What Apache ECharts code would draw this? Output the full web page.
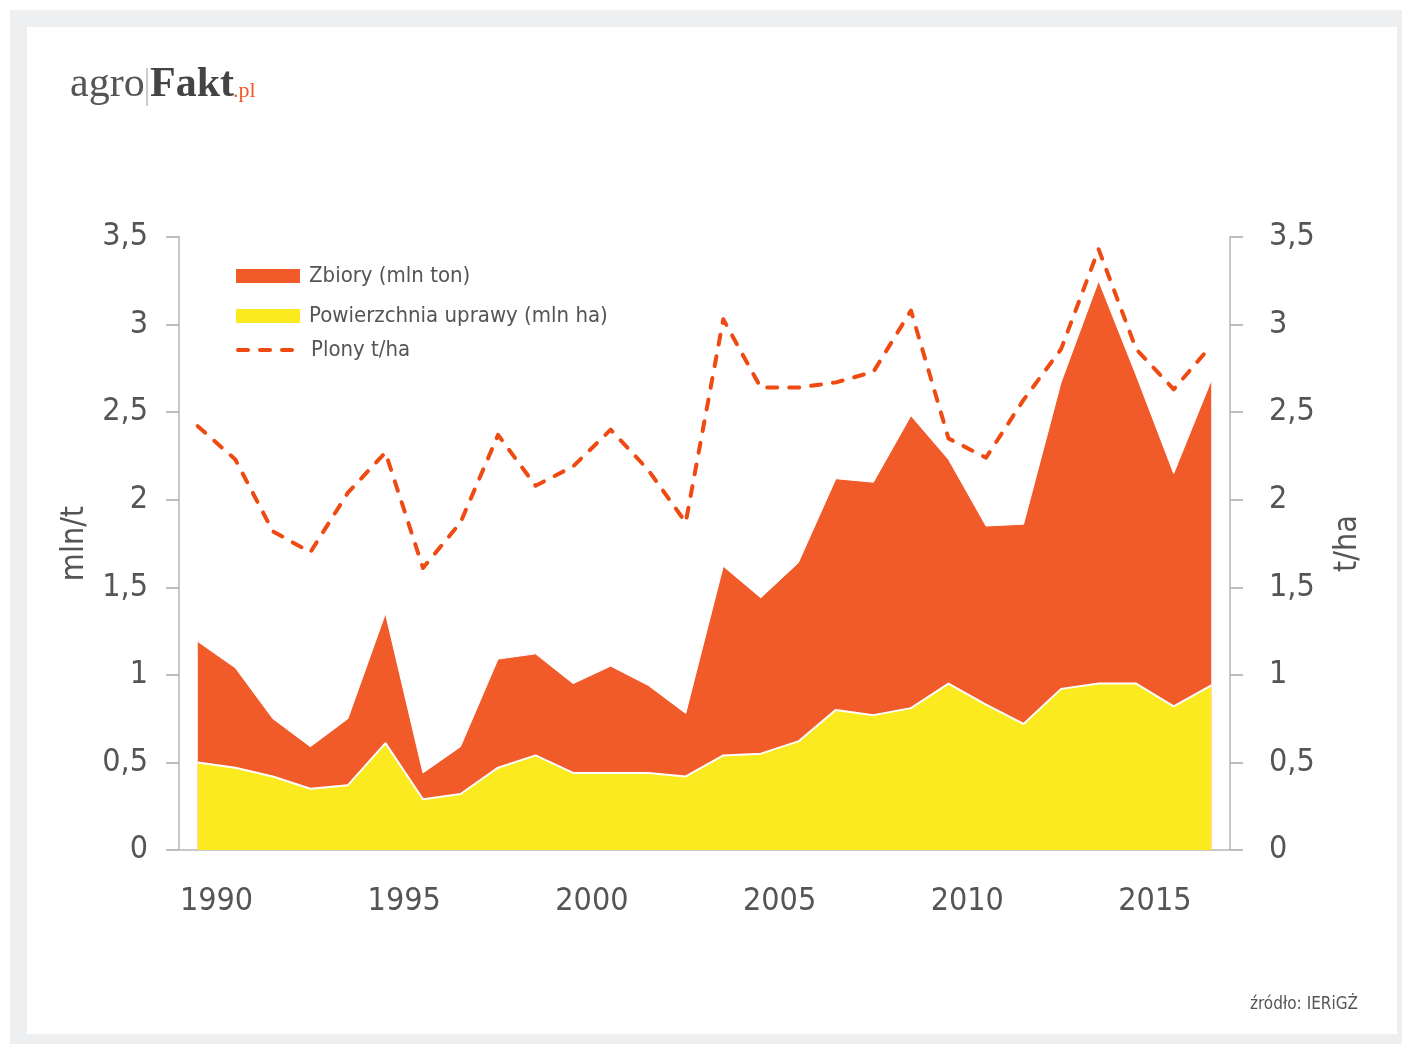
<!DOCTYPE html>
<html>
<head>
<meta charset="utf-8">
<title>Rzepak - zbiory, powierzchnia, plony</title>
<script src="https://cdn.jsdelivr.net/npm/echarts@6/dist/echarts.min.js"></script>
<style>
    html, body { margin: 0; padding: 0; background: #ffffff; }
    #frame { position: absolute; left: 10px; top: 10px; width: 1392px; height: 1034px; background: #eeeff0; }
    #card { position: absolute; left: 27px; top: 27px; width: 1370px; height: 1007px; background: #ffffff; }
    #main { position: absolute; left: 0; top: 0; width: 1402px; height: 1044px; }
</style>
</head>
<body>
<div id="frame"></div>
<div id="card"></div>
<div id="main"></div>
<script>
// lata (punkty danych)
var years = ['1990','1991','1992','1993','1994','1995','1996','1997','1998','1999',
             '2000','2001','2002','2003','2004','2005','2006','2007','2008','2009',
             '2010','2011','2012','2013','2014','2015','2016','2017'];
// podpisy osi x - stoja na kreskach miedzy latami
var tickYears = ['1989','1990','1991','1992','1993','1994','1995','1996','1997','1998','1999',
                 '2000','2001','2002','2003','2004','2005','2006','2007','2008','2009',
                 '2010','2011','2012','2013','2014','2015','2016','2017'];
// Zbiory (mln ton)
var zbiory = [1.19, 1.04, 0.75, 0.59, 0.75, 1.35, 0.44, 0.59, 1.09, 1.12,
              0.95, 1.05, 0.94, 0.78, 1.62, 1.44, 1.64, 2.12, 2.10, 2.48,
              2.23, 1.85, 1.86, 2.67, 3.25, 2.71, 2.15, 2.68];
// Powierzchnia uprawy (mln ha)
var powierzchnia = [0.50, 0.47, 0.42, 0.35, 0.37, 0.61, 0.29, 0.32, 0.47, 0.54,
                    0.44, 0.44, 0.44, 0.42, 0.54, 0.55, 0.62, 0.80, 0.77, 0.81,
                    0.95, 0.83, 0.72, 0.92, 0.95, 0.95, 0.82, 0.94];
// Plony t/ha
var plony = [2.42, 2.23, 1.82, 1.70, 2.04, 2.27, 1.61, 1.87, 2.37, 2.08,
             2.19, 2.40, 2.17, 1.87, 3.03, 2.64, 2.64, 2.67, 2.73, 3.08,
             2.35, 2.24, 2.57, 2.86, 3.43, 2.86, 2.63, 2.88];

var condensed = '"Liberation Sans Narrow", "DejaVu Sans Condensed", "Roboto Condensed", sans-serif';
var serif = '"Liberation Serif", serif';
var grey = '#555555';
var axisGrey = '#c8c8c8';
var dash = [10, 12];

function commaFmt(v) {
    return String(v).replace('.', ',');
}

function legendItem(item, top) {
    return {
        left: 236,
        top: top,
        padding: 0,
        itemWidth: 64,
        itemHeight: 14,
        itemGap: 0,
        selectedMode: false,
        data: [item],
        textStyle: { fontFamily: condensed, fontSize: 22, color: grey, padding: [0, 0, 0, 4] }
    };
}

var myChart = echarts.init(document.getElementById('main'));

var option = {
    animation: false,
    // logo + zrodlo
    graphic: [
        {
            type: 'text',
            left: 70,
            top: 64,
            style: { text: 'agro', fontFamily: serif, fontSize: 42, fill: '#555555' }
        },
        {
            type: 'line',
            shape: { x1: 147, y1: 68, x2: 147, y2: 106 },
            style: { stroke: '#9a9a9a', lineWidth: 1 }
        },
        {
            type: 'text',
            left: 150,
            top: 64,
            style: { text: 'Fakt', fontFamily: serif, fontSize: 42, fontWeight: 'bold', fill: '#444444' }
        },
        {
            type: 'text',
            left: 233,
            top: 80,
            style: { text: '.pl', fontFamily: serif, fontSize: 22, fill: '#f15a29' }
        },
        {
            type: 'text',
            right: 44,
            top: 996,
            style: {
                text: 'źródło: IERiGŻ',
                fontFamily: condensed,
                fontSize: 17,
                fill: grey
            }
        }
    ],
    legend: [
        legendItem({ name: 'Zbiory (mln ton)', icon: 'rect' }, 265),
        legendItem({ name: 'Powierzchnia uprawy (mln ha)', icon: 'rect' }, 305),
        legendItem({
            name: 'Plony t/ha',
            itemStyle: { opacity: 0 },
            lineStyle: { width: 4, type: dash, cap: 'round' }
        }, 339)
    ],
    grid: {
        left: 179,
        right: 172,
        top: 237,
        bottom: 194
    },
    xAxis: [
        {
            type: 'category',
            position: 'bottom',
            boundaryGap: true,
            data: years,
            axisLine: { lineStyle: { color: axisGrey, width: 2 } },
            axisTick: { interval: 0, length: 12, lineStyle: { color: '#aaaaaa', width: 1.5 } },
            axisLabel: { show: false },
            splitLine: { show: false }
        },
        {
            // osobna os tylko na podpisy lat przy kreskach
            type: 'category',
            position: 'bottom',
            boundaryGap: false,
            data: tickYears,
            axisLine: { show: false },
            axisTick: { show: false },
            axisLabel: {
                interval: function(index, value) {
                    return Number(value) % 5 === 0;
                },
                margin: 36,
                fontFamily: condensed,
                fontSize: 32,
                color: grey
            },
            splitLine: { show: false }
        }
    ],
    yAxis: [
        {
            type: 'value',
            position: 'left',
            min: 0,
            max: 3.5,
            interval: 0.5,
            name: 'mln/t',
            nameLocation: 'middle',
            nameGap: 88,
            nameRotate: 90,
            nameTextStyle: { fontFamily: condensed, fontSize: 32, color: grey },
            axisLine: { show: true, lineStyle: { color: axisGrey, width: 2 } },
            axisTick: { show: true, length: 13, lineStyle: { color: '#aaaaaa', width: 1.5 } },
            axisLabel: { formatter: commaFmt, margin: 31, fontFamily: condensed, fontSize: 32, color: grey },
            splitLine: { show: false }
        },
        {
            type: 'value',
            position: 'right',
            min: 0,
            max: 3.5,
            interval: 0.5,
            name: 't/ha',
            nameLocation: 'middle',
            nameGap: 102,
            nameRotate: 90,
            nameTextStyle: { fontFamily: condensed, fontSize: 32, color: grey },
            axisLine: { show: true, lineStyle: { color: axisGrey, width: 2 } },
            axisTick: { show: true, length: 13, lineStyle: { color: '#aaaaaa', width: 1.5 } },
            axisLabel: { formatter: commaFmt, margin: 39, fontFamily: condensed, fontSize: 32, color: grey },
            splitLine: { show: false }
        }
    ],
    series: [
        {
            name: 'Zbiory (mln ton)',
            type: 'line',
            xAxisIndex: 0,
            yAxisIndex: 0,
            data: zbiory,
            symbol: 'none',
            itemStyle: { color: '#f15a29' },
            lineStyle: { color: '#ffffff', width: 1 },
            areaStyle: { color: '#f15a29', opacity: 1 }
        },
        {
            name: 'Powierzchnia uprawy (mln ha)',
            type: 'line',
            xAxisIndex: 0,
            yAxisIndex: 0,
            data: powierzchnia,
            symbol: 'none',
            itemStyle: { color: '#fcea20' },
            lineStyle: { color: '#ffffff', width: 2 },
            areaStyle: { color: '#fcea20', opacity: 1 }
        },
        {
            name: 'Plony t/ha',
            type: 'line',
            xAxisIndex: 0,
            yAxisIndex: 1,
            data: plony,
            symbol: 'none',
            itemStyle: { color: '#ee4a12' },
            lineStyle: { color: '#ee4a12', width: 4, type: dash, cap: 'round', join: 'round' }
        }
    ]
};
myChart.setOption(option);
</script>
</body>
</html>
